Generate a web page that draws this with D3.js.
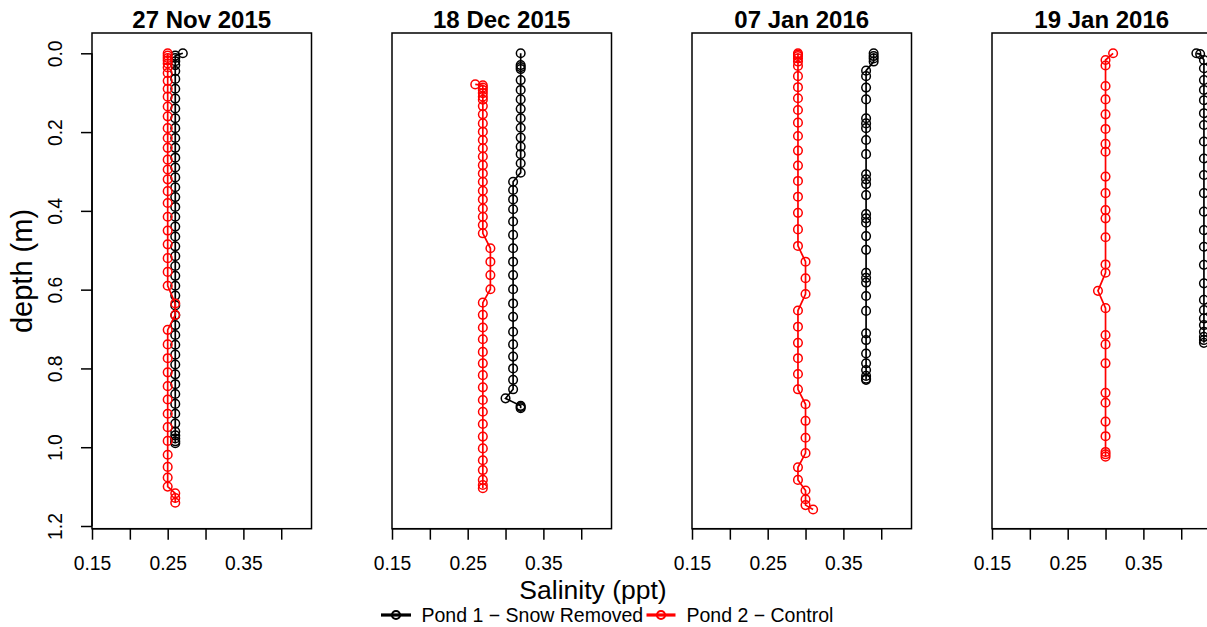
<!DOCTYPE html>
<html>
<head>
<meta charset="utf-8">
<script src="https://cdn.jsdelivr.net/npm/d3@7/dist/d3.min.js"></script>
<style>
  html, body { margin: 0; padding: 0; background: #fff; }
  svg { display: block; font-family: "Liberation Sans", Arial, sans-serif; }
</style>
</head>
<body>
<svg id="chart" width="1207" height="627"></svg>
<script>
// ---------------- DATA ----------------
const panelDates = ["27 Nov 2015", "18 Dec 2015", "07 Jan 2016", "19 Jan 2016"];
const seriesNames = ["Pond 1 \u2212 Snow Removed", "Pond 2 \u2212 Control"];
const seriesColors = ["#000000", "#ff0000"];
const xTickValues = [0.15, 0.20, 0.25, 0.30, 0.35, 0.40];
const xTickLabels = ["0.15", "", "0.25", "", "0.35", ""];
const yTickValues = [0.0, 0.2, 0.4, 0.6, 0.8, 1.0, 1.2];
const yTickLabels = ["0.0", "0.2", "0.4", "0.6", "0.8", "1.0", "1.2"];

// 27 Nov 2015
const nov27Pond1Depth = [0, 0.006, 0.012, 0.02, 0.03, 0.045, 0.065, 0.09, 0.115, 0.14, 0.165, 0.19, 0.215, 0.24, 0.265, 0.29, 0.315, 0.34, 0.365, 0.39, 0.415, 0.44, 0.465, 0.49, 0.515, 0.54, 0.565, 0.59, 0.615, 0.64, 0.665, 0.69, 0.715, 0.74, 0.765, 0.79, 0.815, 0.84, 0.865, 0.89, 0.915, 0.94, 0.96, 0.97, 0.978, 0.985, 0.99];
const nov27Pond1Sal = [0.27, 0.26, 0.26, 0.26, 0.26, 0.26, 0.26, 0.26, 0.26, 0.26, 0.26, 0.26, 0.26, 0.26, 0.26, 0.26, 0.26, 0.26, 0.26, 0.26, 0.26, 0.26, 0.26, 0.26, 0.26, 0.26, 0.26, 0.26, 0.26, 0.26, 0.26, 0.26, 0.26, 0.26, 0.26, 0.26, 0.26, 0.26, 0.26, 0.26, 0.26, 0.26, 0.26, 0.26, 0.26, 0.26, 0.26];
const nov27Pond2Depth = [0, 0.006, 0.012, 0.018, 0.026, 0.036, 0.05, 0.07, 0.09, 0.11, 0.135, 0.16, 0.19, 0.215, 0.24, 0.27, 0.295, 0.32, 0.35, 0.38, 0.415, 0.45, 0.485, 0.52, 0.555, 0.59, 0.635, 0.664, 0.702, 0.739, 0.774, 0.81, 0.845, 0.879, 0.915, 0.949, 0.984, 1.019, 1.05, 1.077, 1.10, 1.117, 1.129, 1.141];
const nov27Pond2Sal = [0.25, 0.25, 0.25, 0.25, 0.25, 0.25, 0.25, 0.25, 0.25, 0.25, 0.25, 0.25, 0.25, 0.25, 0.25, 0.25, 0.25, 0.25, 0.25, 0.25, 0.25, 0.25, 0.25, 0.25, 0.25, 0.25, 0.26, 0.26, 0.25, 0.25, 0.25, 0.25, 0.25, 0.25, 0.25, 0.25, 0.25, 0.25, 0.25, 0.25, 0.25, 0.26, 0.26, 0.26];

// 18 Dec 2015
const dec18Pond1Depth = [0, 0.03, 0.035, 0.04, 0.068, 0.093, 0.117, 0.141, 0.165, 0.189, 0.214, 0.237, 0.256, 0.279, 0.303, 0.326, 0.347, 0.371, 0.396, 0.427, 0.461, 0.495, 0.529, 0.563, 0.599, 0.635, 0.669, 0.707, 0.739, 0.770, 0.800, 0.829, 0.853, 0.876, 0.895, 0.898, 0.901];
const dec18Pond1Sal = [0.32, 0.32, 0.32, 0.32, 0.32, 0.32, 0.32, 0.32, 0.32, 0.32, 0.32, 0.32, 0.32, 0.32, 0.32, 0.31, 0.31, 0.31, 0.31, 0.31, 0.31, 0.31, 0.31, 0.31, 0.31, 0.31, 0.31, 0.31, 0.31, 0.31, 0.31, 0.31, 0.31, 0.30, 0.32, 0.32, 0.32];
const dec18Pond2Depth = [0.079, 0.081, 0.087, 0.093, 0.101, 0.11, 0.118, 0.134, 0.155, 0.178, 0.199, 0.22, 0.241, 0.262, 0.284, 0.305, 0.326, 0.349, 0.371, 0.394, 0.415, 0.436, 0.457, 0.495, 0.529, 0.563, 0.599, 0.633, 0.664, 0.696, 0.726, 0.758, 0.787, 0.817, 0.848, 0.880, 0.910, 0.941, 0.973, 1.003, 1.033, 1.058, 1.083, 1.096, 1.104];
const dec18Pond2Sal = [0.26, 0.27, 0.27, 0.27, 0.27, 0.27, 0.27, 0.27, 0.27, 0.27, 0.27, 0.27, 0.27, 0.27, 0.27, 0.27, 0.27, 0.27, 0.27, 0.27, 0.27, 0.27, 0.27, 0.28, 0.28, 0.28, 0.28, 0.27, 0.27, 0.27, 0.27, 0.27, 0.27, 0.27, 0.27, 0.27, 0.27, 0.27, 0.27, 0.27, 0.27, 0.27, 0.27, 0.27, 0.27];

// 07 Jan 2016
const jan07Pond1Depth = [0, 0.007, 0.013, 0.021, 0.044, 0.058, 0.087, 0.117, 0.165, 0.178, 0.19, 0.22, 0.256, 0.307, 0.32, 0.332, 0.36, 0.408, 0.419, 0.43, 0.464, 0.499, 0.557, 0.57, 0.582, 0.616, 0.654, 0.711, 0.728, 0.762, 0.787, 0.804, 0.819, 0.826, 0.829];
const jan07Pond1Sal = [0.39, 0.39, 0.39, 0.39, 0.38, 0.38, 0.38, 0.38, 0.38, 0.38, 0.38, 0.38, 0.38, 0.38, 0.38, 0.38, 0.38, 0.38, 0.38, 0.38, 0.38, 0.38, 0.38, 0.38, 0.38, 0.38, 0.38, 0.38, 0.38, 0.38, 0.38, 0.38, 0.38, 0.38, 0.38];
const jan07Pond2Depth = [0, 0.003, 0.007, 0.013, 0.021, 0.032, 0.058, 0.086, 0.114, 0.144, 0.176, 0.21, 0.247, 0.285, 0.324, 0.364, 0.405, 0.447, 0.489, 0.529, 0.571, 0.611, 0.653, 0.694, 0.735, 0.774, 0.814, 0.853, 0.891, 0.933, 0.976, 1.015, 1.051, 1.083, 1.11, 1.132, 1.147, 1.158];
const jan07Pond2Sal = [0.29, 0.29, 0.29, 0.29, 0.29, 0.29, 0.29, 0.29, 0.29, 0.29, 0.29, 0.29, 0.29, 0.29, 0.29, 0.29, 0.29, 0.29, 0.29, 0.30, 0.30, 0.30, 0.29, 0.29, 0.29, 0.29, 0.29, 0.29, 0.30, 0.30, 0.30, 0.30, 0.29, 0.29, 0.30, 0.30, 0.30, 0.31];

// 19 Jan 2016
const jan19Pond1Depth = [0, 0.002, 0.017, 0.038, 0.068, 0.093, 0.119, 0.152, 0.182, 0.224, 0.267, 0.309, 0.355, 0.402, 0.449, 0.491, 0.537, 0.584, 0.626, 0.652, 0.673, 0.69, 0.707, 0.72, 0.728, 0.735];
const jan19Pond1Sal = [0.42, 0.425, 0.43, 0.43, 0.43, 0.43, 0.43, 0.43, 0.43, 0.43, 0.43, 0.43, 0.43, 0.43, 0.43, 0.43, 0.43, 0.43, 0.43, 0.43, 0.43, 0.43, 0.43, 0.43, 0.43, 0.43];
const jan19Pond2Depth = [0, 0.017, 0.031, 0.083, 0.117, 0.155, 0.192, 0.23, 0.25, 0.313, 0.355, 0.398, 0.419, 0.467, 0.536, 0.557, 0.603, 0.647, 0.715, 0.739, 0.787, 0.862, 0.887, 0.935, 0.972, 1.012, 1.018, 1.024];
const jan19Pond2Sal = [0.31, 0.30, 0.30, 0.30, 0.30, 0.30, 0.30, 0.30, 0.30, 0.30, 0.30, 0.30, 0.30, 0.30, 0.30, 0.30, 0.29, 0.30, 0.30, 0.30, 0.30, 0.30, 0.30, 0.30, 0.30, 0.30, 0.30, 0.30];

const panelSeries = [
  [[nov27Pond1Sal, nov27Pond1Depth], [nov27Pond2Sal, nov27Pond2Depth]],
  [[dec18Pond1Sal, dec18Pond1Depth], [dec18Pond2Sal, dec18Pond2Depth]],
  [[jan07Pond1Sal, jan07Pond1Depth], [jan07Pond2Sal, jan07Pond2Depth]],
  [[jan19Pond1Sal, jan19Pond1Depth], [jan19Pond2Sal, jan19Pond2Depth]]
];

// ---------------- LAYOUT ----------------
const svg = d3.select("#chart");
svg.append("rect").attr("width", 1207).attr("height", 627).attr("fill", "#fff");

const panelLefts = [92, 392, 692, 992];
const boxW = 219.5, boxTop = 33, boxBottom = 528.7;
const tickLen = 11;
const tickFont = "19.3px";

const y = d3.scaleLinear().domain([0, 1.2]).range([53.3, 526]);

panelDates.forEach((date, i) => {
  const left = panelLefts[i];
  const x = d3.scaleLinear().domain([0.15, 0.44]).range([left, left + boxW]);
  const g = svg.append("g");

  // data
  panelSeries[i].forEach((s, k) => {
    const pts = s[0].map((v, j) => [v, s[1][j]]);
    const line = d3.line().x(d => x(d[0])).y(d => y(d[1]));
    g.append("path").datum(pts)
      .attr("d", line).attr("fill", "none")
      .attr("stroke", seriesColors[k]).attr("stroke-width", 1.7);
    g.selectAll(null).data(pts).enter().append("circle")
      .attr("cx", d => x(d[0])).attr("cy", d => y(d[1])).attr("r", 4.3)
      .attr("fill", "none").attr("stroke", seriesColors[k]).attr("stroke-width", 1.5);
  });

  // box
  g.append("rect").attr("x", left).attr("y", boxTop)
    .attr("width", boxW).attr("height", boxBottom - boxTop)
    .attr("fill", "none").attr("stroke", "#000").attr("stroke-width", 1.5);

  // x axis
  const xa = g.append("g").attr("transform", `translate(0,${boxBottom})`)
    .call(d3.axisBottom(x).tickValues(xTickValues).tickSize(tickLen)
      .tickFormat((d, j) => xTickLabels[j]));
  xa.attr("font-size", null).attr("font-family", null);
  xa.select(".domain").attr("stroke-width", 1.5).attr("d", `M${x(0.15)},0H${x(0.40)}`);
  xa.selectAll(".tick line").attr("stroke-width", 1.5);
  xa.selectAll(".tick text").style("font-size", tickFont)
    .attr("fill", "#000").attr("y", 41.5).attr("dy", 0);

  // title
  g.append("text").attr("x", left + boxW / 2).attr("y", 28)
    .attr("text-anchor", "middle").attr("font-weight", "bold").style("font-size", "24px")
    .text(date);

  if (i === 0) {
    const ya = g.append("g").attr("transform", `translate(${left},0)`)
      .call(d3.axisLeft(y).tickValues(yTickValues).tickSize(tickLen)
        .tickFormat((d, j) => yTickLabels[j]));
    ya.attr("font-size", null).attr("font-family", null);
    ya.select(".domain").attr("stroke-width", 1.5).attr("d", `M0,${y(0)}V${y(1.2)}`);
    ya.selectAll(".tick line").attr("stroke-width", 1.5);
    ya.selectAll(".tick text").style("font-size", tickFont)
      .attr("fill", "#000").attr("x", null).attr("dy", null)
      .attr("text-anchor", "middle")
      .attr("transform", "translate(-30,0) rotate(-90)");
  }
});

// axis titles
svg.append("text").attr("x", 593).attr("y", 598.6).attr("text-anchor", "middle")
  .style("font-size", "26.5px").text("Salinity (ppt)");
svg.append("text").attr("transform", "translate(32,271) rotate(-90)")
  .attr("text-anchor", "middle").style("font-size", "29px").text("depth (m)");

// legend
const legendY = 615;
const legendItems = [
  { x1: 381, x2: 411, tx: 421.5 },
  { x1: 646.5, x2: 675.5, tx: 686.5 }
];
legendItems.forEach((it, k) => {
  svg.append("line").attr("x1", it.x1).attr("x2", it.x2).attr("y1", legendY).attr("y2", legendY)
    .attr("stroke", seriesColors[k]).attr("stroke-width", 3.2);
  svg.append("circle").attr("cx", (it.x1 + it.x2) / 2).attr("cy", legendY).attr("r", 4)
    .attr("fill", "none").attr("stroke", seriesColors[k]).attr("stroke-width", 2.2);
  svg.append("text").attr("x", it.tx).attr("y", 622.2).style("font-size", "19.5px")
    .attr("fill", "#000").text(seriesNames[k]);
});
</script>
</body>
</html>
